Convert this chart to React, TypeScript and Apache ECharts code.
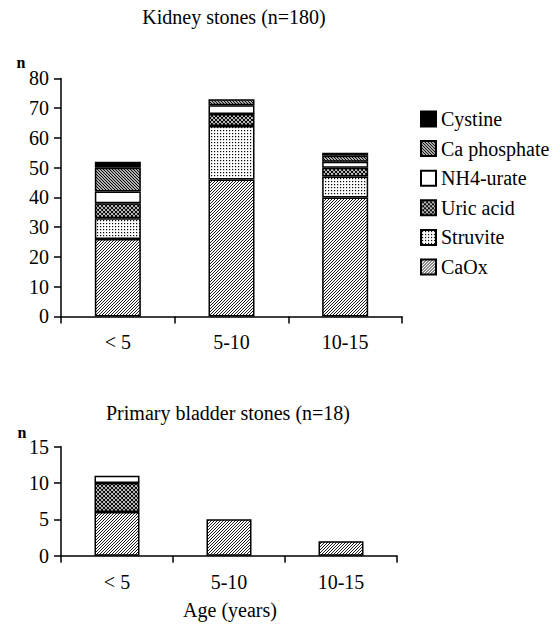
import React, { useEffect, useRef } from 'react';
import * as echarts from 'echarts';

const ageGroups = ['< 5', '5-10', '10-15'];
const stoneTypes = ['CaOx', 'Struvite', 'Uric acid', 'NH4-urate', 'Ca phosphate', 'Cystine'];
const legendOrder = ['Cystine', 'Ca phosphate', 'NH4-urate', 'Uric acid', 'Struvite', 'CaOx'];

const kidneyCaOx = [26, 46, 40];
const kidneyStruvite = [7, 18, 7];
const kidneyUric = [5, 4, 3];
const kidneyNH4 = [4, 3, 2];
const kidneyCaPhos = [8, 2, 2];
const kidneyCystine: (number | null)[] = [2, null, 1];

const bladderCaOx = [6, 5, 2];
const bladderUric: (number | null)[] = [4, null, null];
const bladderNH4: (number | null)[] = [1, null, null];

const kidneyAxis = { min: 0, max: 80, interval: 10 };
const bladderAxis = { min: 0, max: 15, interval: 5 };

const FONT = 'Liberation Serif, Times New Roman, serif';

function makePattern(kind: string): any {
  if (kind === 'white') return '#ffffff';
  if (kind === 'black') return '#000000';
  const size = kind === 'cross' ? 4 : 3;
  const c = document.createElement('canvas');
  c.width = size;
  c.height = size;
  const ctx = c.getContext('2d')!;
  ctx.fillStyle = '#ffffff';
  ctx.fillRect(0, 0, size, size);
  ctx.strokeStyle = '#000000';
  ctx.fillStyle = '#000000';
  const s = size;
  const fwd = () => {
    ctx.moveTo(-1, s + 1); ctx.lineTo(s + 1, -1);
    ctx.moveTo(-1, 1); ctx.lineTo(1, -1);
    ctx.moveTo(s - 1, s + 1); ctx.lineTo(s + 1, s - 1);
  };
  const back = () => {
    ctx.moveTo(-1, -1); ctx.lineTo(s + 1, s + 1);
    ctx.moveTo(s - 1, -1); ctx.lineTo(s + 1, 1);
    ctx.moveTo(-1, s - 1); ctx.lineTo(1, s + 1);
  };
  if (kind === 'fwd') {
    ctx.lineWidth = 0.9;
    ctx.beginPath(); fwd(); ctx.stroke();
  } else if (kind === 'back') {
    ctx.lineWidth = 1.2;
    ctx.beginPath(); back(); ctx.stroke();
  } else if (kind === 'dots') {
    ctx.fillRect(1, 1, 1.2, 1.2);
  } else if (kind === 'cross') {
    ctx.lineWidth = 1.1;
    ctx.beginPath(); fwd(); back(); ctx.stroke();
  }
  return { image: c, repeat: 'repeat', imageWidth: size, imageHeight: size };
}

export default function App() {
  const ref = useRef<HTMLDivElement>(null);
  useEffect(() => {
    if (!ref.current) return;
    const chart = echarts.init(ref.current, undefined, { renderer: 'svg' });
    const fills: Record<string, any> = {
      CaOx: makePattern('fwd'),
      Struvite: makePattern('dots'),
      'Uric acid': makePattern('cross'),
      'NH4-urate': makePattern('white'),
      'Ca phosphate': makePattern('back'),
      Cystine: makePattern('black'),
    };
    const kidneyData: Record<string, (number | null)[]> = {
      CaOx: kidneyCaOx,
      Struvite: kidneyStruvite,
      'Uric acid': kidneyUric,
      'NH4-urate': kidneyNH4,
      'Ca phosphate': kidneyCaPhos,
      Cystine: kidneyCystine,
    };
    const bladderData: Record<string, (number | null)[]> = {
      CaOx: bladderCaOx,
      'Uric acid': bladderUric,
      'NH4-urate': bladderNH4,
    };
    const itemStyleFor = (name: string) => ({
      color: fills[name],
      borderColor: '#000',
      borderWidth: 1.5,
    });
    const toData = (arr: (number | null)[]) => arr.map((v) => (v == null ? '-' : v));

    const series: any[] = [];
    stoneTypes.forEach((name) => {
      series.push({
        type: 'bar',
        name,
        stack: 'kidney',
        xAxisIndex: 0,
        yAxisIndex: 0,
        barWidth: 46,
        data: toData(kidneyData[name]),
        itemStyle: itemStyleFor(name),
        emphasis: { disabled: true },
      });
    });
    stoneTypes.forEach((name) => {
      if (!bladderData[name]) return;
      series.push({
        type: 'bar',
        name,
        stack: 'bladder',
        xAxisIndex: 1,
        yAxisIndex: 1,
        barWidth: 45,
        data: toData(bladderData[name]),
        itemStyle: itemStyleFor(name),
        emphasis: { disabled: true },
      });
    });

    const axisLine = { show: true, lineStyle: { color: '#000', width: 1.5 } };
    const axisTick = { show: true, length: 7, lineStyle: { color: '#000', width: 1.5 } };
    const labelStyle = { color: '#000', fontFamily: FONT, fontSize: 20 };

    const option: any = {
      animation: false,
      backgroundColor: '#fff',
      textStyle: { fontFamily: FONT },
      grid: [
        { left: 61, top: 78.4, width: 341, height: 238 },
        { left: 61, top: 446.7, width: 336, height: 109 },
      ],
      xAxis: [0, 1].map((i) => ({
        type: 'category',
        gridIndex: i,
        data: ageGroups,
        axisLine,
        axisTick,
        axisLabel: { ...labelStyle, margin: 16 },
        splitLine: { show: false },
      })),
      yAxis: [kidneyAxis, bladderAxis].map((a, i) => ({
        type: 'value',
        gridIndex: i,
        min: a.min,
        max: a.max,
        interval: a.interval,
        axisLine,
        axisTick,
        axisLabel: { ...labelStyle, margin: 12 },
        splitLine: { show: false },
      })),
      legend: {
        data: legendOrder,
        orient: 'vertical',
        left: 420,
        top: 109,
        padding: 0,
        icon: 'rect',
        itemWidth: 15,
        itemHeight: 15,
        itemGap: 9.6,
        selectedMode: false,
        textStyle: { color: '#000', fontFamily: FONT, fontSize: 20, lineHeight: 20 },
      },
      graphic: [
        {
          type: 'text', x: 234, y: 16.7,
          style: { text: 'Kidney stones (n=180)', fontFamily: FONT, fontSize: 20, fill: '#000', align: 'center', verticalAlign: 'middle' },
        },
        {
          type: 'text', x: 228, y: 413,
          style: { text: 'Primary bladder stones (n=18)', fontFamily: FONT, fontSize: 20, fill: '#000', align: 'center', verticalAlign: 'middle' },
        },
        {
          type: 'text', x: 230, y: 610,
          style: { text: 'Age (years)', fontFamily: FONT, fontSize: 20, fill: '#000', align: 'center', verticalAlign: 'middle' },
        },
        {
          type: 'text', x: 21, y: 62,
          style: { text: 'n', fontFamily: FONT, fontSize: 16, fontWeight: 'bold', fill: '#000', align: 'center', verticalAlign: 'middle' },
        },
        {
          type: 'text', x: 22, y: 432,
          style: { text: 'n', fontFamily: FONT, fontSize: 16, fontWeight: 'bold', fill: '#000', align: 'center', verticalAlign: 'middle' },
        },
      ],
      series,
    };
    chart.setOption(option);
    return () => chart.dispose();
  }, []);
  return (
    <div
      ref={ref}
      style={{ position: 'fixed', left: 0, top: 0, width: 560, height: 629, background: '#fff' }}
    />
  );
}
